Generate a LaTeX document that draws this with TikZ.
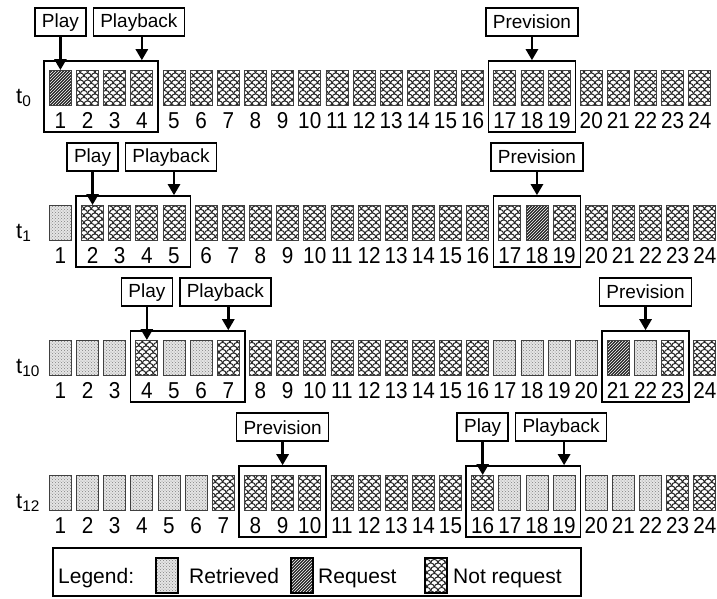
\documentclass[tikz,border=0pt]{standalone}
\usepackage{fontspec}
\setmainfont{Liberation Sans}
\usetikzlibrary{patterns,arrows.meta,fit}
\pgfdeclarepatternformonly{scales}{\pgfqpoint{-0.6pt}{-0.6pt}}{\pgfqpoint{7.9pt}{7.7pt}}{\pgfqpoint{7.3pt}{7pt}}{%
  \pgfsetlinewidth{1pt}%
  \pgfpathmoveto{\pgfqpoint{0pt}{0pt}}%
  \pgfpatharc{180}{0}{3.65pt}%
  \pgfpathmoveto{\pgfqpoint{3.65pt}{3.5pt}}%
  \pgfpatharc{180}{90}{3.65pt}%
  \pgfpathmoveto{\pgfqpoint{3.65pt}{3.5pt}}%
  \pgfpatharc{0}{90}{3.65pt}%
  \pgfusepath{stroke}%
}
\tikzset{
  cellbase/.style={draw=black!75, line width=0.8pt, minimum width=22pt, minimum height=35pt, inner sep=0pt, anchor=north west},
  cN/.style={cellbase, preaction={fill=white}, preaction={pattern=scales, pattern color=black!85}},
  cR/.style={cellbase, preaction={fill=black!10}, preaction={pattern=crosshatch dots, pattern color=black!50}},
  cQ/.style={cellbase, preaction={fill=black!85}, preaction={pattern=north east lines, pattern color=white}},
  num/.style={font=\fontsize{23}{23}\selectfont, inner sep=0pt, anchor=base, xscale=0.9},
  lbl/.style={draw, line width=1.6pt, font=\fontsize{19}{19}\selectfont, inner xsep=7pt, inner ysep=0pt, minimum height=28pt, anchor=south},
  win/.style={draw, line width=1.6pt, inner sep=0pt},
  arr/.style={line width=2.6pt, -{Triangle[width=12pt,length=11pt]}},
  tlab/.style={font=\fontsize{22}{22}\selectfont, inner sep=0pt, anchor=base west},
  legtxt/.style={font=\fontsize{21}{21}\selectfont, inner sep=0pt, anchor=base west},
  legcell/.style={draw=black, line width=2.4pt},
}
\newcommand\drawrow[7]{%
  \foreach \t [count=\i] in {#7}{%
    \pgfmathsetmacro\xx{49+(\i-1)*27.15+5*((\i>#3)+(\i>#4)+(\i>#5)+(\i>#6))}%
    \node[\t] (#1-\i) at (\xx,#2) {};
    \node[num] (#1-n\i) at ([yshift=-23pt]#1-\i.south) {\i};
  }%
}
\begin{document}
\begin{tikzpicture}[x=1pt,y=-1pt]
\useasboundingbox (0,0) rectangle (717,598);

% ---- row t0
\drawrow{a}{70}{4}{16}{19}{99}{cQ,cN,cN,cN,cN,cN,cN,cN,cN,cN,cN,cN,cN,cN,cN,cN,cN,cN,cN,cN,cN,cN,cN,cN}
\node[tlab] (ta) at (16,103) {t\textsubscript{0}};
\node[win, fit={([xshift=-5pt,yshift=9pt]a-1.north west) ([xshift=5pt,yshift=-26pt]a-4.south east)}] (wa1) {};
\node[win, fit={([xshift=-5pt,yshift=9pt]a-17.north west) ([xshift=5pt,yshift=-26pt]a-19.south east)}] (wa2) {};
\node[lbl] (pa) at ([yshift=33pt]a-1.north) {Play};
\node[lbl] (ba) at ([xshift=-3pt,yshift=33pt]a-4.north) {Playback};
\node[lbl] (va) at ([yshift=33pt]a-18.north) {Prevision};
\draw[arr] (pa.south -| a-1.north) -- (a-1.north);
\draw[arr] (ba.south -| a-4.north) -- (a-4.north |- wa1.north);
\draw[arr] (va.south -| a-18.north) -- (a-18.north |- wa2.north);

% ---- row t1
\drawrow{b}{205}{1}{5}{16}{19}{cR,cN,cN,cN,cN,cN,cN,cN,cN,cN,cN,cN,cN,cN,cN,cN,cN,cQ,cN,cN,cN,cN,cN,cN}
\node[tlab] (tb) at (16,238) {t\textsubscript{1}};
\node[win, fit={([xshift=-5pt,yshift=9pt]b-2.north west) ([xshift=5pt,yshift=-26pt]b-5.south east)}] (wb1) {};
\node[win, fit={([xshift=-5pt,yshift=9pt]b-17.north west) ([xshift=5pt,yshift=-26pt]b-19.south east)}] (wb2) {};
\node[lbl] (pb) at ([yshift=33pt]b-2.north) {Play};
\node[lbl] (bb) at ([xshift=-3pt,yshift=33pt]b-5.north) {Playback};
\node[lbl] (vb) at ([yshift=33pt]b-18.north) {Prevision};
\draw[arr] (pb.south -| b-2.north) -- (b-2.north);
\draw[arr] (bb.south -| b-5.north) -- (b-5.north |- wb1.north);
\draw[arr] (vb.south -| b-18.north) -- (b-18.north |- wb2.north);

% ---- row t10
\drawrow{c}{340}{3}{7}{20}{23}{cR,cR,cR,cN,cR,cR,cN,cN,cN,cN,cN,cN,cN,cN,cN,cN,cR,cR,cR,cR,cQ,cR,cN,cN}
\node[tlab] (tc) at (16,373) {t\textsubscript{10}};
\node[win, fit={([xshift=-5pt,yshift=9pt]c-4.north west) ([xshift=5pt,yshift=-26pt]c-7.south east)}] (wc1) {};
\node[win, fit={([xshift=-5pt,yshift=9pt]c-21.north west) ([xshift=5pt,yshift=-26pt]c-23.south east)}] (wc2) {};
\node[lbl] (pc) at ([yshift=33pt]c-4.north) {Play};
\node[lbl] (bc) at ([xshift=-3pt,yshift=33pt]c-7.north) {Playback};
\node[lbl] (vc) at ([yshift=33pt]c-22.north) {Prevision};
\draw[arr] (pc.south -| c-4.north) -- (c-4.north);
\draw[arr] (bc.south -| c-7.north) -- (c-7.north |- wc1.north);
\draw[arr] (vc.south -| c-22.north) -- (c-22.north |- wc2.north);

% ---- row t12
\drawrow{d}{475}{7}{10}{15}{19}{cR,cR,cR,cR,cR,cR,cN,cN,cN,cN,cN,cN,cN,cN,cN,cN,cR,cR,cR,cR,cR,cR,cN,cN}
\node[tlab] (td) at (16,508) {t\textsubscript{12}};
\node[win, fit={([xshift=-5pt,yshift=9pt]d-8.north west) ([xshift=5pt,yshift=-26pt]d-10.south east)}] (wd1) {};
\node[win, fit={([xshift=-5pt,yshift=9pt]d-16.north west) ([xshift=5pt,yshift=-26pt]d-19.south east)}] (wd2) {};
\node[lbl] (vd) at ([yshift=33pt]d-9.north) {Prevision};
\node[lbl] (pd) at ([yshift=33pt]d-16.north) {Play};
\node[lbl] (bd) at ([xshift=-3pt,yshift=33pt]d-19.north) {Playback};
\draw[arr] (vd.south -| d-9.north) -- (d-9.north |- wd1.north);
\draw[arr] (pd.south -| d-16.north) -- (d-16.north);
\draw[arr] (bd.south -| d-19.north) -- (d-19.north |- wd2.north);

% ---- legend
\node[draw, line width=1.6pt, minimum width=528pt, minimum height=48pt, inner sep=0pt, anchor=north west] (leg) at (52,547) {};
\node[legtxt] (lg) at (58,583) {Legend:};
\node[cR, legcell] (lr) at (155,557) {};
\node[legtxt] (lrt) at (189,583) {Retrieved};
\node[cQ, legcell] (lq) at (290,557) {};
\node[legtxt] (lqt) at (318,583) {Request};
\node[cN, legcell] (ln) at (424,557) {};
\node[legtxt] (lnt) at (453,583) {Not request};
\end{tikzpicture}
\end{document}
